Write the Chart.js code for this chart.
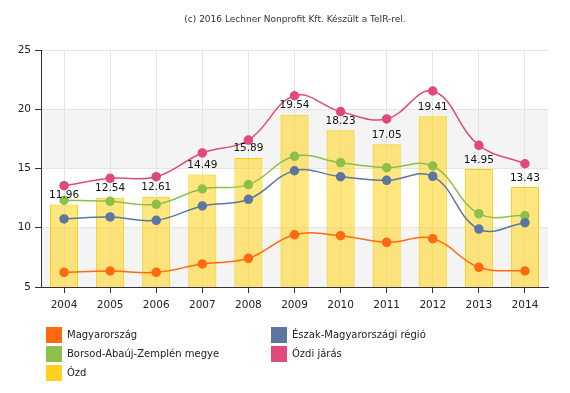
<!DOCTYPE html>
<html>
<head>
<meta charset="utf-8">
<script src="https://cdn.jsdelivr.net/npm/chart.js@4"></script>
<style>
  html, body { margin: 0; padding: 0; background: #ffffff; }
  #wrap { width: 570px; height: 393px; }
</style>
</head>
<body>
<div id="wrap"><canvas id="chart" width="570" height="393"></canvas></div>
<script>
// ─── adatok ───
const years = ['2004', '2005', '2006', '2007', '2008', '2009', '2010', '2011', '2012', '2013', '2014'];
const magyarorszag = [6.24, 6.35, 6.24, 6.94, 7.42, 9.41, 9.33, 8.77, 9.08, 6.66, 6.35];
const eszakRegio = [10.74, 10.91, 10.63, 11.84, 12.40, 14.81, 14.31, 14.00, 14.34, 9.89, 10.43];
const borsodMegye = [12.32, 12.23, 11.98, 13.27, 13.64, 16.03, 15.49, 15.07, 15.21, 11.19, 11.02];
const ozdiJaras = [13.55, 14.17, 14.31, 16.31, 17.40, 21.14, 19.80, 19.18, 21.54, 16.96, 15.40];
const ozd = [11.96, 12.54, 12.61, 14.49, 15.89, 19.54, 18.23, 17.05, 19.41, 14.95, 13.43];
const yTicks = [5, 10, 15, 20, 25];

const TITLE = '(c) 2016 Lechner Nonprofit Kft. Készült a TeIR-rel.';
const FONT = '"DejaVu Sans", Verdana, sans-serif';

// ─── színek ───
const C_ORANGE = '#FF6A10';
const C_BLUE = '#5B77A0';
const C_GREEN = '#8DC04A';
const C_PINK = '#E04A7A';
const C_YELLOW = '#FFD21F';

function lineSet(label, data, color, order) {
  return {
    type: 'line',
    label,
    data,
    borderColor: color,
    backgroundColor: color,
    pointBackgroundColor: color,
    pointBorderColor: color,
    borderWidth: 1.5,
    pointRadius: 4,
    tension: 0.4,
    fill: false,
    order,
  };
}

// sávos háttér (5-10 és 15-20 szürke)
const bandPlugin = {
  id: 'bands',
  beforeDraw(chart) {
    const { ctx, chartArea: a, scales: { y } } = chart;
    ctx.save();
    ctx.fillStyle = '#F4F4F4';
    [[5, 10], [15, 20]].forEach(([lo, hi]) => {
      const top = y.getPixelForValue(hi);
      const bot = y.getPixelForValue(lo);
      ctx.fillRect(a.left, top, a.right - a.left, bot - top);
    });
    ctx.restore();
  },
};

// oszlopcímkék + cím + jelmagyarázat
const decoPlugin = {
  id: 'deco',
  afterDatasetsDraw(chart) {
    const { ctx } = chart;
    const idx = chart.data.datasets.findIndex((d) => d.type !== 'line');
    const meta = chart.getDatasetMeta(idx);
    ctx.save();
    ctx.font = '10.5px ' + FONT;
    ctx.fillStyle = '#111111';
    ctx.textAlign = 'center';
    ctx.textBaseline = 'bottom';
    meta.data.forEach((bar, i) => {
      ctx.fillText(ozd[i].toFixed(2), bar.x, bar.y - 4);
    });
    ctx.restore();
  },
  afterDraw(chart) {
    const { ctx } = chart;
    ctx.save();
    ctx.font = '9px ' + FONT;
    ctx.fillStyle = '#333333';
    ctx.textAlign = 'center';
    ctx.textBaseline = 'middle';
    ctx.fillText(TITLE, 295, 20);

    // jelmagyarázat: két oszlop
    const cols = [46, 271];
    const rows = [327, 346, 365];
    ctx.font = '10px ' + FONT;
    ctx.textAlign = 'left';
    chart.data.datasets.forEach((ds, i) => {
      const x = cols[i % 2];
      const y = rows[Math.floor(i / 2)];
      ctx.fillStyle = ds.legendColor || ds.borderColor;
      ctx.fillRect(x, y, 16, 16);
      ctx.fillStyle = '#222222';
      ctx.fillText(ds.label, x + 21, y + 8);
    });
    ctx.restore();
  },
};

new Chart(document.getElementById('chart'), {
  type: 'bar',
  data: {
    labels: years,
    datasets: [
      lineSet('Magyarország', magyarorszag, C_ORANGE, 1),
      lineSet('Észak-Magyarországi régió', eszakRegio, C_BLUE, 2),
      lineSet('Borsod-Abaúj-Zemplén megye', borsodMegye, C_GREEN, 3),
      lineSet('Ózdi járás', ozdiJaras, C_PINK, 4),
      {
        type: 'bar',
        label: 'Ózd',
        data: ozd,
        backgroundColor: 'rgba(255, 214, 40, 0.6)',
        borderColor: '#F5CF10',
        legendColor: C_YELLOW,
        borderWidth: 1,
        barPercentage: 0.61,
        categoryPercentage: 1,
        order: 10,
      },
    ],
  },
  options: {
    responsive: false,
    animation: false,
    layout: { padding: { top: 50, right: 22, bottom: 76, left: 0 } },
    plugins: {
      legend: { display: false },
      tooltip: { enabled: false },
      title: { display: false },
    },
    scales: {
      x: {
        offset: true,
        grid: {
          offset: false,
          color: '#E4E4E4',
          tickColor: '#333333',
          tickLength: 6,
        },
        border: { color: '#333333', width: 1 },
        ticks: { color: '#222222', font: { family: FONT, size: 10.5 }, padding: 6 },
        afterFit(s) { s.height = 30; },
      },
      y: {
        min: 5,
        max: 25,
        afterBuildTicks(s) { s.ticks = yTicks.map((v) => ({ value: v })); },
        grid: { color: '#E4E4E4', tickColor: '#333333', tickLength: 6 },
        border: { color: '#333333', width: 1 },
        ticks: { color: '#222222', font: { family: FONT, size: 10.5 }, padding: 4 },
        afterFit(s) { s.width = 41; },
      },
    },
  },
  plugins: [bandPlugin, decoPlugin],
});
</script>
</body>
</html>
